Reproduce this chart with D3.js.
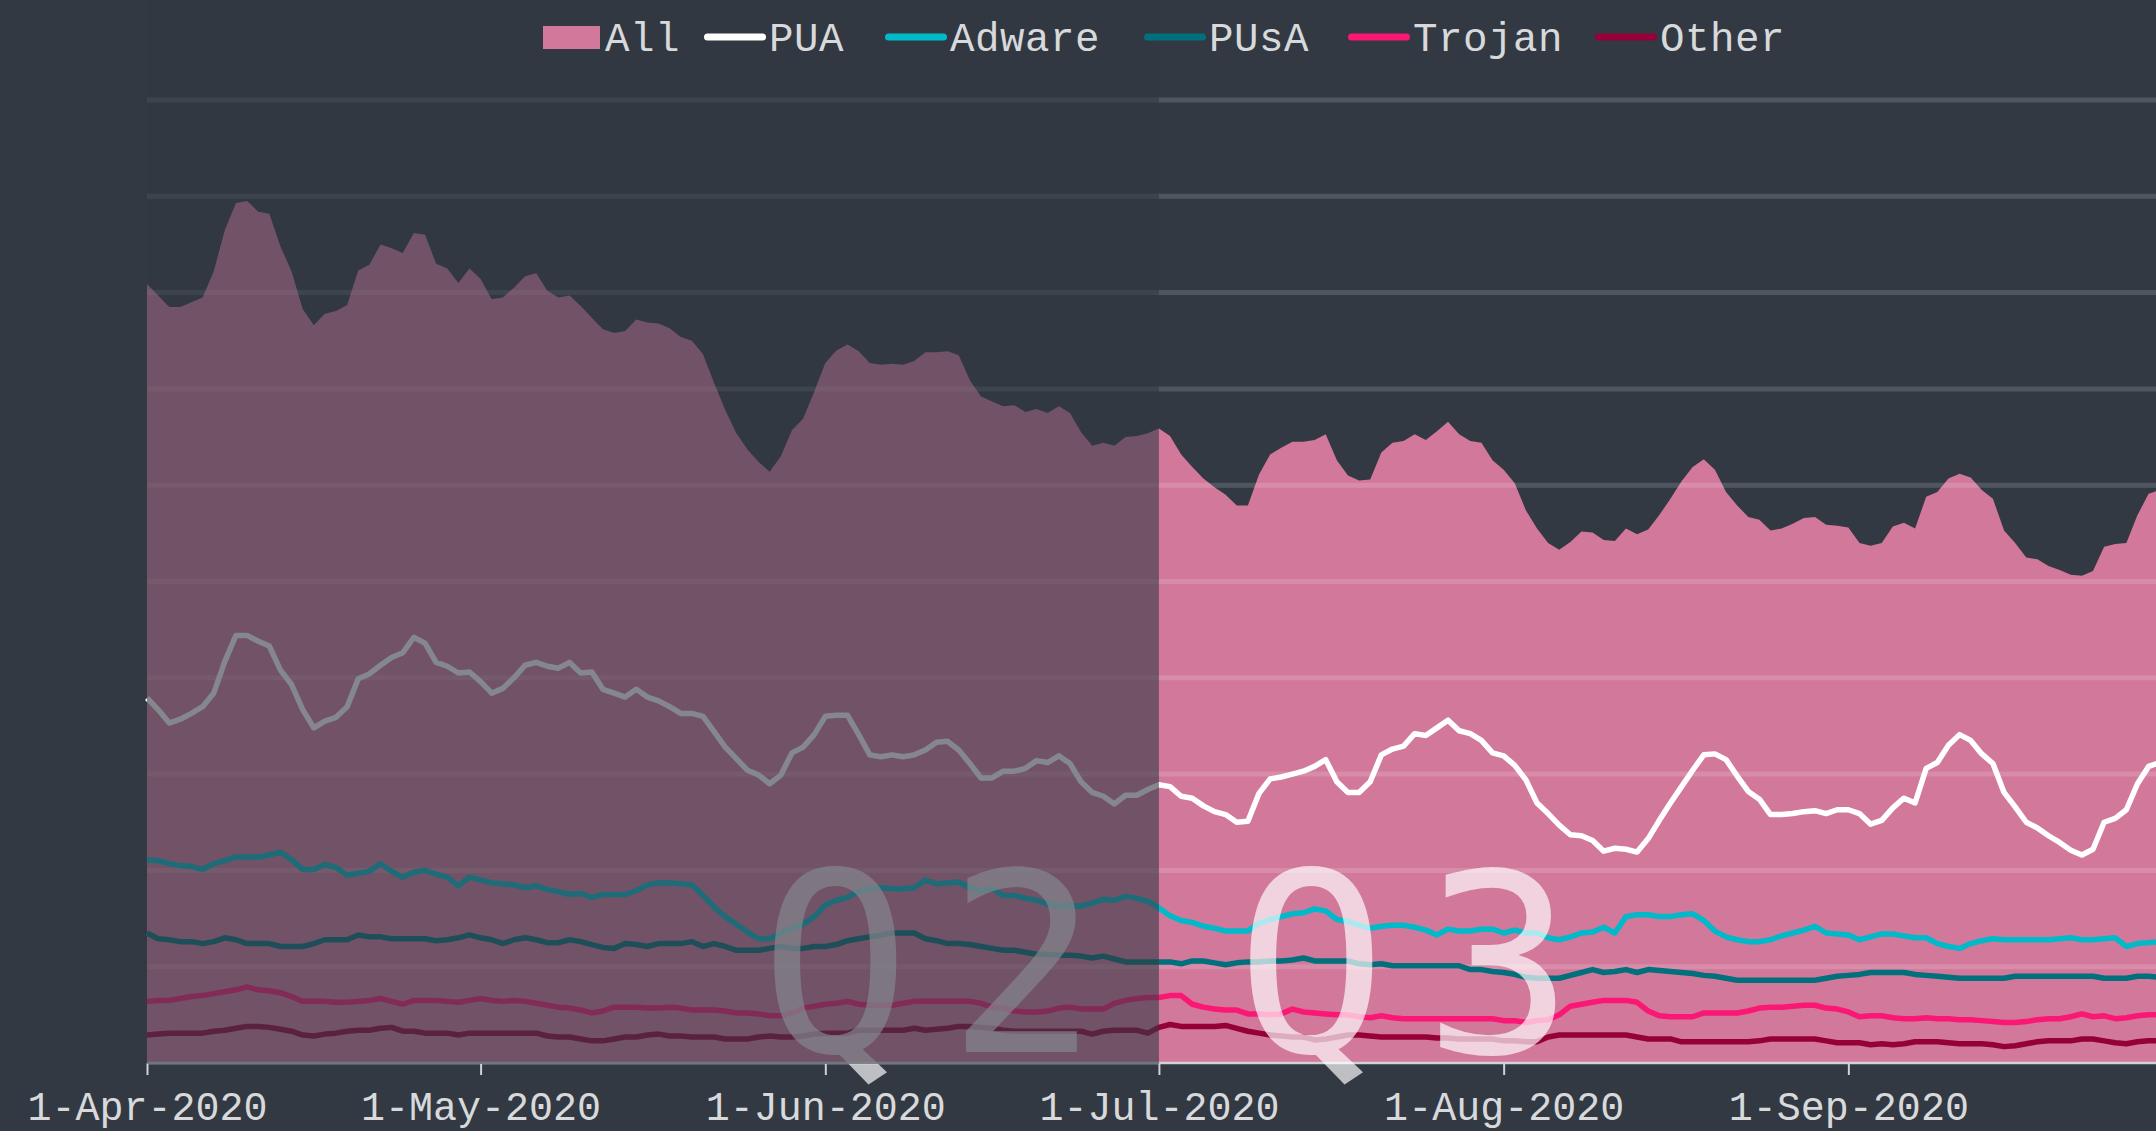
<!DOCTYPE html>
<html>
<head>
<meta charset="utf-8">
<script src="https://cdn.jsdelivr.net/npm/d3@7"></script>
<style>
  html, body { margin: 0; padding: 0; background: #323943; overflow: hidden; }
  svg { display: block; font-family: "Liberation Mono", monospace; }
</style>
</head>
<body>
<div id="container"></div>
<script>
// daily values, 1-Apr-2020 .. 29-Sep-2020 (index 0 = 1-Apr)
const startDate = new Date(2020, 3, 1);
const endDate = new Date(2020, 8, 29);
const q3Start = new Date(2020, 6, 1);
const dates = d3.timeDay.range(startDate, d3.timeDay.offset(endDate, 1));

const tickDates = [new Date(2020, 3, 1), new Date(2020, 4, 1), new Date(2020, 5, 1),
                   new Date(2020, 6, 1), new Date(2020, 7, 1), new Date(2020, 8, 1)];
const tickLabels = ["1-Apr-2020", "1-May-2020", "1-Jun-2020", "1-Jul-2020", "1-Aug-2020", "1-Sep-2020"];

const allValues = [
  80.9, 79.7, 78.5, 78.5, 79.0, 79.5, 82.2, 86.5, 89.3, 89.5,
  88.4, 88.2, 84.8, 82.2, 78.3, 76.6, 77.8, 78.1, 78.7, 82.3,
  82.9, 85.0, 84.6, 84.1, 86.2, 86.0, 83.0, 82.5, 81.0, 82.5,
  81.4, 79.3, 79.5, 80.5, 81.7, 82.0, 80.2, 79.5, 79.7, 78.6,
  77.4, 76.2, 75.8, 76.0, 77.2, 76.9, 76.8, 76.3, 75.4, 75.0,
  73.6, 70.6, 67.8, 65.4, 63.7, 62.4, 61.4, 63.0, 65.7, 66.9,
  69.7, 72.7, 74.0, 74.6, 73.9, 72.7, 72.5, 72.6, 72.5, 72.9,
  73.8, 73.8, 73.9, 73.5, 70.9, 69.2, 68.7, 68.2, 68.3, 67.6,
  67.9, 67.5, 68.2, 67.5, 65.5, 64.1, 64.4, 64.1, 65.0, 65.1,
  65.4, 65.9, 65.1, 63.2, 61.9, 60.7, 59.8, 59.0, 57.9, 57.9,
  61.1, 63.2, 63.9, 64.5, 64.5, 64.7, 65.3, 62.6, 61.0, 60.5,
  60.6, 63.4, 64.4, 64.6, 65.3, 64.7, 65.6, 66.6, 65.3, 64.6,
  64.4, 62.6, 61.6, 60.2, 57.4, 55.5, 54.0, 53.3, 54.1, 55.2,
  55.1, 54.3, 54.2, 55.5, 54.9, 55.4, 56.9, 58.6, 60.4, 61.9,
  62.7, 61.6, 59.3, 57.9, 56.7, 56.4, 55.3, 55.5, 56.0, 56.6,
  56.7, 55.9, 55.8, 55.6, 54.0, 53.7, 54.0, 55.7, 56.1, 55.5,
  58.8, 59.3, 60.7, 61.2, 60.8, 59.5, 58.6, 55.3, 54.0, 52.5,
  52.3, 51.6, 51.2, 50.7, 50.6, 51.1, 53.6, 53.9, 54.0, 56.9,
  59.1, 59.5
];

const puaValues = [
  37.9, 36.7, 35.3, 35.7, 36.3, 37.0, 38.4, 41.7, 44.4, 44.4,
  43.8, 43.3, 40.8, 39.3, 36.7, 34.8, 35.5, 35.9, 37.0, 39.9,
  40.4, 41.3, 42.1, 42.6, 44.2, 43.6, 41.6, 41.2, 40.5, 40.6,
  39.6, 38.4, 38.9, 40.0, 41.3, 41.6, 41.2, 41.0, 41.6, 40.5,
  40.6, 38.8, 38.4, 38.0, 38.8, 38.0, 37.6, 37.0, 36.3, 36.3,
  36.0, 34.4, 32.8, 31.6, 30.4, 29.9, 29.0, 29.9, 32.2, 32.8,
  34.1, 36.0, 36.1, 36.1, 34.1, 32.0, 31.8, 32.0, 31.8, 32.0,
  32.5, 33.3, 33.4, 32.5, 31.1, 29.6, 29.6, 30.3, 30.3, 30.6,
  31.4, 31.2, 31.9, 31.1, 29.2, 28.1, 27.7, 26.9, 27.8, 27.8,
  28.4, 28.9, 28.7, 27.7, 27.5, 26.7, 26.1, 25.8, 25.0, 25.1,
  28.0, 29.5, 29.7, 30.0, 30.3, 30.8, 31.5, 29.2, 28.1, 28.1,
  29.2, 32.0, 32.6, 32.9, 34.2, 34.0, 34.8, 35.6, 34.5, 34.2,
  33.5, 32.2, 31.9, 30.9, 29.4, 27.0, 25.9, 24.7, 23.7, 23.6,
  23.1, 22.0, 22.3, 22.2, 21.9, 23.3, 25.2, 27.0, 28.7, 30.4,
  32.0, 32.1, 31.5, 29.8, 28.2, 27.4, 25.8, 25.8, 25.9, 26.1,
  26.2, 25.9, 26.3, 26.3, 25.9, 24.8, 25.2, 26.5, 27.5, 27.0,
  30.6, 31.2, 33.0, 34.1, 33.5, 32.1, 31.1, 28.1, 26.6, 25.0,
  24.4, 23.6, 22.9, 22.1, 21.6, 22.2, 25.0, 25.4, 26.3, 29.0,
  30.8, 31.2
];

const adwareValues = [
  21.1, 21.0, 20.7, 20.5, 20.4, 20.1, 20.7, 21.0, 21.4, 21.4,
  21.4, 21.6, 21.9, 21.1, 20.1, 20.1, 20.6, 20.3, 19.5, 19.7,
  19.9, 20.7, 19.9, 19.3, 19.8, 20.0, 19.6, 19.3, 18.4, 19.3,
  19.0, 18.7, 18.6, 18.5, 18.2, 18.4, 18.0, 17.8, 17.5, 17.6,
  17.2, 17.5, 17.5, 17.5, 17.9, 18.5, 18.7, 18.7, 18.6, 18.5,
  17.4, 16.2, 15.2, 14.4, 13.6, 12.9, 12.9, 13.5, 14.0, 14.4,
  15.2, 16.4, 16.9, 17.2, 17.8, 18.1, 18.2, 18.1, 18.1, 18.2,
  19.0, 18.6, 18.7, 18.8, 18.2, 17.8, 18.1, 17.4, 17.4, 17.1,
  16.9, 16.5, 16.3, 16.3, 16.3, 16.6, 17.0, 16.9, 17.3, 17.1,
  16.8, 16.1, 15.3, 14.8, 14.6, 14.2, 14.0, 13.7, 13.7, 13.7,
  14.5, 14.9, 15.2, 15.5, 15.6, 16.0, 15.8, 14.9, 14.7, 14.3,
  14.0, 14.2, 14.3, 14.3, 14.1, 13.8, 13.3, 13.9, 13.7, 13.7,
  13.9, 13.9, 13.5, 13.8, 13.5, 13.5, 13.0, 12.8, 13.1, 13.5,
  13.6, 14.1, 13.5, 15.2, 15.4, 15.4, 15.2, 15.2, 15.4, 15.5,
  14.8, 13.7, 13.1, 12.8, 12.6, 12.6, 12.8, 13.2, 13.5, 13.8,
  14.2, 13.5, 13.4, 13.3, 12.8, 13.1, 13.4, 13.4, 13.2, 13.0,
  13.0, 12.4, 12.1, 11.9, 12.4, 12.7, 12.9, 12.8, 12.8, 12.8,
  12.8, 12.8, 12.9, 13.0, 12.8, 12.8, 12.9, 13.0, 12.1, 12.4,
  12.5, 12.6
];

const pusaValues = [
  13.5, 12.9, 12.8, 12.6, 12.6, 12.4, 12.6, 13.0, 12.8, 12.4,
  12.4, 12.4, 12.1, 12.1, 12.1, 12.4, 12.8, 12.8, 12.8, 13.3,
  13.1, 13.1, 12.9, 12.9, 12.9, 12.9, 12.7, 12.8, 13.0, 13.3,
  13.0, 12.8, 12.4, 12.8, 13.0, 12.8, 12.5, 12.5, 12.8, 12.6,
  12.3, 12.0, 11.9, 12.4, 12.3, 12.1, 12.4, 12.4, 12.4, 12.6,
  12.1, 12.4, 12.1, 11.7, 11.7, 11.7, 11.9, 12.1, 11.9, 11.9,
  12.1, 12.1, 12.3, 12.7, 12.9, 13.1, 13.3, 13.5, 13.5, 13.5,
  12.9, 12.7, 12.4, 12.4, 12.3, 12.1, 11.9, 11.7, 11.7, 11.5,
  11.3, 11.3, 11.2, 11.2, 11.1, 10.9, 11.1, 10.8, 10.5, 10.5,
  10.5, 10.5, 10.5, 10.3, 10.6, 10.6, 10.4, 10.2, 10.4, 10.5,
  10.5, 10.6, 10.6, 10.7, 10.9, 10.6, 10.6, 10.6, 10.6, 10.3,
  10.2, 10.3, 10.1, 10.1, 10.1, 10.1, 10.1, 10.1, 10.1, 9.7,
  9.7, 9.5, 9.4, 9.2, 8.9, 8.8, 8.8, 8.8, 9.1, 9.4,
  9.7, 9.4, 9.5, 9.7, 9.4, 9.7, 9.6, 9.5, 9.4, 9.3,
  9.1, 9.0, 8.8, 8.6, 8.6, 8.6, 8.6, 8.6, 8.6, 8.6,
  8.6, 8.8, 9.0, 9.1, 9.2, 9.4, 9.4, 9.4, 9.4, 9.2,
  9.1, 9.0, 8.9, 8.8, 8.8, 8.8, 8.8, 8.8, 9.0, 9.0,
  9.0, 9.0, 9.0, 9.0, 9.0, 9.0, 8.8, 8.8, 8.8, 9.0,
  9.0, 8.9
];

const trojanValues = [
  6.4, 6.5, 6.5, 6.7, 6.9, 7.0, 7.2, 7.4, 7.6, 7.9,
  7.6, 7.5, 7.3, 6.9, 6.4, 6.4, 6.4, 6.3, 6.3, 6.4,
  6.5, 6.7, 6.4, 6.1, 6.5, 6.5, 6.5, 6.4, 6.3, 6.5,
  6.7, 6.5, 6.4, 6.5, 6.4, 6.2, 6.0, 5.8, 5.7, 5.5,
  5.2, 5.4, 5.8, 5.8, 5.8, 5.7, 5.7, 5.8, 5.7, 5.5,
  5.5, 5.5, 5.4, 5.2, 5.2, 5.1, 4.9, 4.9, 5.2, 5.7,
  5.9, 6.1, 6.2, 6.4, 6.1, 6.0, 6.0, 6.0, 6.2, 6.4,
  6.4, 6.4, 6.4, 6.4, 6.4, 6.2, 5.8, 5.7, 5.4, 5.3,
  5.3, 5.4, 5.7, 5.8, 5.6, 5.6, 5.6, 6.2, 6.5, 6.7,
  6.8, 6.8, 7.0, 7.0, 6.1, 5.8, 5.6, 5.5, 5.5, 5.1,
  5.1, 5.0, 5.1, 5.6, 5.3, 5.2, 5.1, 5.0, 5.0, 4.8,
  4.7, 4.9, 4.7, 4.6, 4.6, 4.6, 4.6, 4.6, 4.6, 4.6,
  4.6, 4.6, 4.4, 4.4, 4.2, 4.4, 4.5, 5.0, 5.9, 6.1,
  6.3, 6.5, 6.5, 6.5, 6.3, 5.4, 4.9, 4.8, 4.8, 4.8,
  5.2, 5.2, 5.2, 5.2, 5.4, 5.7, 5.8, 5.8, 5.9, 6.0,
  6.0, 5.7, 5.6, 5.3, 4.8, 4.9, 4.9, 4.7, 4.6, 4.6,
  4.7, 4.6, 4.6, 4.5, 4.5, 4.4, 4.3, 4.2, 4.2, 4.3,
  4.5, 4.6, 4.6, 4.8, 5.1, 4.8, 4.9, 4.6, 4.7, 4.9,
  5.0, 5.0
];

const otherValues = [
  2.9, 3.0, 3.1, 3.1, 3.1, 3.1, 3.3, 3.4, 3.6, 3.8,
  3.8, 3.7, 3.5, 3.3, 2.9, 2.8, 3.0, 3.1, 3.3, 3.4,
  3.4, 3.6, 3.7, 3.3, 3.3, 3.1, 3.1, 3.1, 2.9, 3.1,
  3.1, 3.1, 3.1, 3.1, 3.1, 3.1, 2.8, 2.7, 2.7, 2.5,
  2.3, 2.3, 2.5, 2.7, 2.7, 2.9, 3.0, 2.8, 2.8, 2.7,
  2.7, 2.7, 2.5, 2.5, 2.5, 2.7, 2.8, 2.7, 2.7, 2.8,
  3.0, 3.1, 3.1, 3.1, 3.4, 3.4, 3.4, 3.4, 3.4, 3.6,
  3.4, 3.5, 3.6, 3.8, 3.8, 3.7, 3.6, 3.4, 3.3, 3.3,
  3.3, 3.3, 3.3, 3.3, 3.3, 3.0, 3.3, 3.4, 3.4, 3.4,
  3.1, 3.7, 4.0, 3.8, 3.8, 3.8, 3.8, 3.9, 3.6, 3.3,
  3.1, 2.9, 2.8, 2.7, 2.7, 2.4, 2.5, 2.7, 2.9, 2.9,
  2.8, 2.7, 2.7, 2.7, 2.7, 2.7, 2.6, 2.6, 2.5, 2.5,
  2.5, 2.5, 2.3, 2.3, 2.2, 2.2, 2.7, 2.9, 2.9, 2.9,
  2.9, 2.9, 2.9, 2.9, 2.7, 2.5, 2.5, 2.5, 2.2, 2.2,
  2.2, 2.2, 2.2, 2.2, 2.2, 2.3, 2.5, 2.5, 2.5, 2.5,
  2.5, 2.3, 2.1, 2.1, 2.1, 1.9, 2.0, 1.9, 2.0, 2.2,
  2.2, 2.2, 2.1, 2.0, 2.0, 2.0, 1.9, 1.7, 1.8, 2.0,
  2.2, 2.3, 2.3, 2.3, 2.5, 2.5, 2.3, 2.1, 2.0, 2.2,
  2.3, 2.3
];

const lineSeries = [
  { name: "PUA", values: puaValues, color: "#ffffff" },
  { name: "Adware", values: adwareValues, color: "#00b9c9" },
  { name: "PUsA", values: pusaValues, color: "#00707c" },
  { name: "Trojan", values: trojanValues, color: "#fb1774" },
  { name: "Other", values: otherValues, color: "#960038" }
];

const bg = "#323943";
const width = 2156, height = 1131;
const margin = { top: 100, left: 147, bottom: 68 };
const dayPx = 11.12;

const svg = d3.select("#container").append("svg")
    .attr("width", width)
    .attr("height", height);

const x = d3.scaleTime()
    .domain([startDate, endDate])
    .range([margin.left, margin.left + 181 * dayPx]);

const y = d3.scaleLinear()
    .domain([0, 100])
    .range([height - margin.bottom, margin.top]);

// All, as a filled area
const area = d3.area()
    .x((d, i) => x(dates[i]))
    .y0(y(0))
    .y1(d => y(d));

svg.append("path")
    .datum(allValues)
    .attr("fill", "#d2789b")
    .attr("d", area);

// gridlines
svg.append("g")
    .selectAll("line")
    .data(d3.range(10, 101, 10))
  .enter().append("line")
    .attr("x1", margin.left)
    .attr("x2", width)
    .attr("y1", d => y(d))
    .attr("y2", d => y(d))
    .attr("stroke", "#ffffff")
    .attr("stroke-opacity", 0.15)
    .attr("stroke-width", 5);

// series lines
const line = d3.line()
    .x((d, i) => x(dates[i]))
    .y(d => y(d));

svg.append("g")
    .selectAll("path")
    .data(lineSeries.slice().reverse())
  .enter().append("path")
    .attr("fill", "none")
    .attr("stroke", d => d.color)
    .attr("stroke-width", 5.5)
    .attr("stroke-linejoin", "round")
    .attr("d", d => line(d.values));

// axis
const xAxis = svg.append("g")
    .attr("transform", `translate(0,${y(0)})`)
    .call(d3.axisBottom(x)
        .tickValues(tickDates)
        .tickFormat((d, i) => tickLabels[i])
        .tickSize(12)
        .tickSizeOuter(0)
        .tickPadding(17));

xAxis.select(".domain")
    .attr("d", `M${margin.left},0H${width}`)
    .attr("stroke", "#cfd2d6")
    .attr("stroke-width", 2.5);
xAxis.selectAll(".tick line")
    .attr("stroke", "#cfd2d6")
    .attr("stroke-width", 2);
xAxis.selectAll(".tick text")
    .attr("fill", "#d8d9db")
    .attr("font-family", "Liberation Mono, monospace")
    .attr("font-size", 40);

// quarter labels
const quarterText = [
    { label: "Q2", dx: -399 },
    { label: "Q3", dx: 77 }
];
svg.append("g")
    .selectAll("text")
    .data(quarterText)
  .enter().append("text")
    .attr("x", d => x(q3Start) + d.dx)
    .attr("y", 1052)
    .attr("font-family", "DejaVu Sans Mono, monospace")
    .attr("font-size", 250)
    .attr("letter-spacing", 37)
    .attr("fill", "#ffffff")
    .attr("fill-opacity", 0.68)
    .text(d => d.label);

// dim the Q2 part
svg.append("rect")
    .attr("x", margin.left)
    .attr("y", 0)
    .attr("width", x(q3Start) - margin.left)
    .attr("height", y(0) + 1)
    .attr("fill", bg)
    .attr("fill-opacity", 0.6);

// legend
const legendItems = [{ name: "All", color: "#d2789b", type: "rect" }]
    .concat(lineSeries.map(s => ({ name: s.name, color: s.color, type: "line" })));
const legendX = [543, 704, 885, 1144, 1348, 1595];

const legend = svg.append("g")
    .attr("font-size", 40.8)
    .attr("letter-spacing", 0.5);

legendItems.forEach((item, i) => {
    const lx = legendX[i];
    if (item.type === "rect") {
        legend.append("rect")
            .attr("x", lx).attr("y", 26)
            .attr("width", 57).attr("height", 23)
            .attr("fill", item.color);
    } else {
        legend.append("line")
            .attr("x1", lx + 3.5).attr("x2", lx + 58.5)
            .attr("y1", 37).attr("y2", 37)
            .attr("stroke", item.color)
            .attr("stroke-width", 7)
            .attr("stroke-linecap", "round");
    }
    legend.append("text")
        .attr("x", lx + (item.type === "rect" ? 62 : 65))
        .attr("y", 51)
        .attr("fill", "#d8d9db")
        .text(item.name);
});
</script>
</body>
</html>
